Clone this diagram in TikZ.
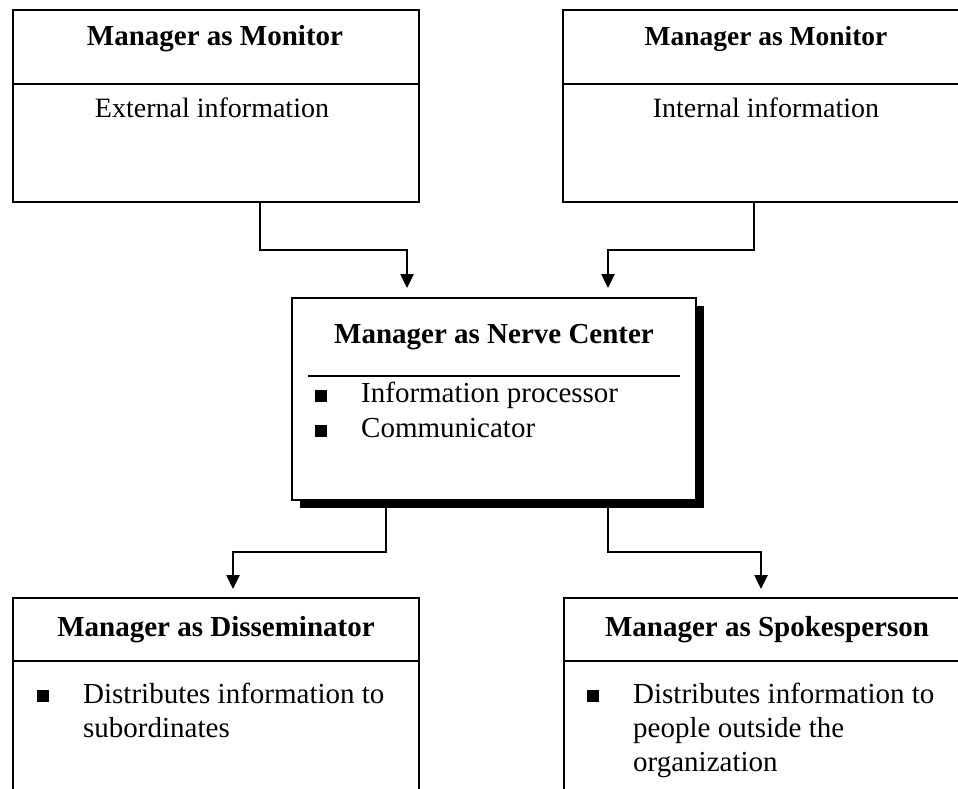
\documentclass[tikz,border=0pt]{standalone}
\usepackage{fontspec}
\setmainfont{Liberation Serif}
\usetikzlibrary{arrows.meta,calc,shadows}
\begin{document}
\begin{tikzpicture}[x=1pt,y=-1pt,
  box/.style={draw=black, line width=2.5pt, fill=white, rectangle,
              inner sep=0pt, outer sep=0pt, minimum width=406pt},
  ttl/.style={anchor=base, inner sep=0pt, font=\bfseries\fontsize{29}{34}\selectfont},
  ttlsm/.style={ttl, font=\bfseries\fontsize{27.5}{33}\selectfont},
  cbody/.style={anchor=base, inner sep=0pt, font=\fontsize{28}{34}\selectfont},
  bodytxt/.style={anchor=base west, inner sep=0pt, font=\fontsize{29}{34}\selectfont},
  bul/.style={fill=black, inner sep=0pt, minimum size=11.5pt},
  sep/.style={line width=2.2pt},
  conn/.style={line width=2.5pt, -{Triangle[width=13pt,length=14pt]}}]

\clip (0,0) rectangle (958,788);

% monitor boxes
\node[box, minimum height=192pt] (extmon) at (216,106) {};
\node[box, minimum height=192pt] (intmon) at (766,106) {};
\draw[sep] ($(extmon.north west)+(0,74)$) -- ($(extmon.north east)+(0,74)$);
\draw[sep] ($(intmon.north west)+(0,74)$) -- ($(intmon.north east)+(0,74)$);
\node[ttl] (extmonT) at (215,45) {Manager as Monitor};
\node[cbody] (extmonB) at (212,117) {External information};
\node[ttlsm] (intmonT) at (766,45) {Manager as Monitor};
\node[cbody] (intmonB) at (766,117) {Internal information};

% nerve center
\node[box, minimum width=404pt, minimum height=202pt,
      drop shadow={shadow xshift=8pt, shadow yshift=-8pt, fill=black, opacity=1}]
      (nerve) at (494,399) {};
\draw[sep] ($(nerve.north west)+(16,78)$) -- ($(nerve.north east)+(-16,78)$);
\node[ttl] (nerveT) at (494,343) {Manager as Nerve Center};
\node[bul] (nb1) at (321,396) {};
\node[bul] (nb2) at (321,431) {};
\node[bodytxt] (nerveL1) at (361,402) {Information processor};
\node[bodytxt] (nerveL2) at (361,437) {Communicator};

% disseminator and spokesperson
\node[box, minimum height=220pt] (dissem) at (216,708) {};
\node[box, minimum height=220pt] (spokes) at (767,708) {};
\draw[sep] ($(dissem.north west)+(0,63)$) -- ($(dissem.north east)+(0,63)$);
\draw[sep] ($(spokes.north west)+(0,63)$) -- ($(spokes.north east)+(0,63)$);
\node[ttl] (dissemT) at (216,636) {Manager as Disseminator};
\node[bul] (db1) at (43,696) {};
\node[bodytxt] (dissemL1) at (83,703) {Distributes information to};
\node[bodytxt] (dissemL2) at (83,737) {subordinates};
\node[ttl] (spokesT) at (767,636) {Manager as Spokesperson};
\node[bul] (sb1) at (593,696) {};
\node[bodytxt] (spokesL1) at (633,703) {Distributes information to};
\node[bodytxt] (spokesL2) at (633,737) {people outside the};
\node[bodytxt] (spokesL3) at (633,771) {organization};

% connectors
\draw[conn] ($(extmon.south west)+(247,0)$) -- ++(0,48) -| ($(nerve.north west)+(115,-10)$);
\draw[conn] ($(intmon.south west)+(191,0)$) -- ++(0,48) -| ($(nerve.north west)+(316,-10)$);
\draw[conn] ($(nerve.south west)+(94,8)$) -- ++(0,44) -| ($(dissem.north west)+(220,-9)$);
\draw[conn] ($(nerve.south west)+(316,8)$) -- ++(0,44) -| ($(spokes.north west)+(197,-9)$);
\end{tikzpicture}
\end{document}
